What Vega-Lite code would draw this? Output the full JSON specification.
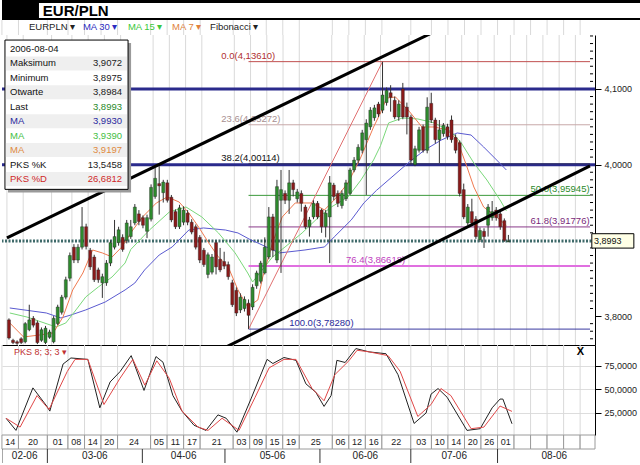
{
"$schema":"https://vega.github.io/schema/vega-lite/v6.json",
"padding":0,
"spacing":0,
"bounds":"flush",
"background":"#ffffff",
"config":{"locale":{"number":{"decimal":",","thousands":" ","grouping":[3],"currency":["","zł"]}},"view":{"stroke":null},"font":"Liberation Sans","axis":{"labelFont":"Liberation Sans","labelFontSize":9,"labelColor":"#222222"},"text":{"font":"Liberation Sans"}},
"resolve":{"scale":{"x":"independent","y":"independent"}},
"datasets":{
"days":[{"d":"14","from":-0.5,"to":3.5},{"d":"20","from":3.5,"to":10.5},{"d":"01","from":10.5,"to":15.5},{"d":"08","from":15.5,"to":19.5},{"d":"14","from":19.5,"to":23.5},{"d":"20","from":23.5,"to":27.5},{"d":"24","from":27.5,"to":35.5},{"d":"05","from":35.5,"to":39.5},{"d":"11","from":39.5,"to":43.5},{"d":"17","from":43.5,"to":47.5},{"d":"21","from":47.5,"to":55.5},{"d":"03","from":55.5,"to":59.5},{"d":"09","from":59.5,"to":63.5},{"d":"15","from":63.5,"to":67.5},{"d":"19","from":67.5,"to":71.5},{"d":"25","from":71.5,"to":79.5},{"d":"06","from":79.5,"to":83.5},{"d":"12","from":83.5,"to":87.5},{"d":"16","from":87.5,"to":91.5},{"d":"22","from":91.5,"to":98.5},{"d":"03","from":98.5,"to":103.5},{"d":"10","from":103.5,"to":107.5},{"d":"14","from":107.5,"to":111.5},{"d":"20","from":111.5,"to":115.5},{"d":"26","from":115.5,"to":119.5},{"d":"01","from":119.5,"to":123.5},{"d":"","from":123.5,"to":127.5},{"d":"","from":127.5,"to":131.5},{"d":"","from":131.5,"to":135.5},{"d":"","from":135.5,"to":139.5},{"d":"","from":139.5,"to":143.1}],
"months":[{"m":"02-06","from":-0.5,"to":10.5},{"m":"03-06","from":10.5,"to":33.5},{"m":"04-06","from":33.5,"to":53.5},{"m":"05-06","from":53.5,"to":76.5},{"m":"06-06","from":76.5,"to":98.5},{"m":"07-06","from":98.5,"to":119.5},{"m":"08-06","from":119.5,"to":147}],
"candles":[
{"i":0,"o":3.795,"h":3.797,"l":3.769,"c":3.771},
{"i":1,"o":3.768,"h":3.770,"l":3.763,"c":3.765},
{"i":2,"o":3.766,"h":3.768,"l":3.762,"c":3.764},
{"i":3,"o":3.770,"h":3.772,"l":3.763,"c":3.765},
{"i":4,"o":3.766,"h":3.792,"l":3.764,"c":3.790},
{"i":5,"o":3.782,"h":3.815,"l":3.780,"c":3.795},
{"i":6,"o":3.797,"h":3.800,"l":3.785,"c":3.788},
{"i":7,"o":3.791,"h":3.794,"l":3.763,"c":3.765},
{"i":8,"o":3.768,"h":3.785,"l":3.766,"c":3.782},
{"i":9,"o":3.765,"h":3.787,"l":3.763,"c":3.784},
{"i":10,"o":3.772,"h":3.782,"l":3.770,"c":3.779},
{"i":11,"o":3.766,"h":3.800,"l":3.764,"c":3.797},
{"i":12,"o":3.790,"h":3.815,"l":3.788,"c":3.812},
{"i":13,"o":3.805,"h":3.828,"l":3.802,"c":3.825},
{"i":14,"o":3.825,"h":3.852,"l":3.822,"c":3.848},
{"i":15,"o":3.850,"h":3.884,"l":3.846,"c":3.880},
{"i":16,"o":3.891,"h":3.895,"l":3.870,"c":3.874},
{"i":17,"o":3.874,"h":3.895,"l":3.870,"c":3.891},
{"i":18,"o":3.891,"h":3.944,"l":3.888,"c":3.918},
{"i":19,"o":3.918,"h":3.922,"l":3.888,"c":3.892},
{"i":20,"o":3.887,"h":3.890,"l":3.861,"c":3.865},
{"i":21,"o":3.878,"h":3.881,"l":3.845,"c":3.848},
{"i":22,"o":3.861,"h":3.864,"l":3.844,"c":3.848},
{"i":23,"o":3.844,"h":3.856,"l":3.824,"c":3.852},
{"i":24,"o":3.844,"h":3.874,"l":3.840,"c":3.870},
{"i":25,"o":3.870,"h":3.900,"l":3.866,"c":3.897},
{"i":26,"o":3.891,"h":3.927,"l":3.888,"c":3.905},
{"i":27,"o":3.897,"h":3.918,"l":3.893,"c":3.914},
{"i":28,"o":3.904,"h":3.908,"l":3.885,"c":3.888},
{"i":29,"o":3.900,"h":3.927,"l":3.896,"c":3.923},
{"i":30,"o":3.905,"h":3.927,"l":3.902,"c":3.918},
{"i":31,"o":3.923,"h":3.948,"l":3.920,"c":3.944},
{"i":32,"o":3.935,"h":3.940,"l":3.920,"c":3.925},
{"i":33,"o":3.930,"h":3.933,"l":3.916,"c":3.920},
{"i":34,"o":3.912,"h":3.934,"l":3.903,"c":3.930},
{"i":35,"o":3.928,"h":3.974,"l":3.925,"c":3.970},
{"i":36,"o":3.958,"h":3.996,"l":3.955,"c":3.982},
{"i":37,"o":3.975,"h":3.998,"l":3.934,"c":3.972},
{"i":38,"o":3.963,"h":3.980,"l":3.950,"c":3.977},
{"i":39,"o":3.976,"h":3.980,"l":3.950,"c":3.953},
{"i":40,"o":3.957,"h":3.960,"l":3.924,"c":3.927},
{"i":41,"o":3.938,"h":3.941,"l":3.915,"c":3.918},
{"i":42,"o":3.918,"h":3.947,"l":3.915,"c":3.943},
{"i":43,"o":3.924,"h":3.945,"l":3.920,"c":3.940},
{"i":44,"o":3.936,"h":3.940,"l":3.920,"c":3.924},
{"i":45,"o":3.924,"h":3.928,"l":3.908,"c":3.911},
{"i":46,"o":3.918,"h":3.921,"l":3.888,"c":3.891},
{"i":47,"o":3.904,"h":3.907,"l":3.870,"c":3.874},
{"i":48,"o":3.887,"h":3.890,"l":3.865,"c":3.868},
{"i":49,"o":3.855,"h":3.884,"l":3.850,"c":3.881},
{"i":50,"o":3.858,"h":3.882,"l":3.855,"c":3.878},
{"i":51,"o":3.897,"h":3.900,"l":3.855,"c":3.865},
{"i":52,"o":3.875,"h":3.890,"l":3.858,"c":3.861},
{"i":53,"o":3.872,"h":3.885,"l":3.862,"c":3.866},
{"i":54,"o":3.868,"h":3.872,"l":3.848,"c":3.852},
{"i":55,"o":3.844,"h":3.848,"l":3.812,"c":3.815},
{"i":56,"o":3.834,"h":3.838,"l":3.800,"c":3.804},
{"i":57,"o":3.808,"h":3.830,"l":3.804,"c":3.825},
{"i":58,"o":3.810,"h":3.826,"l":3.806,"c":3.822},
{"i":59,"o":3.817,"h":3.822,"l":3.783,"c":3.801},
{"i":60,"o":3.812,"h":3.842,"l":3.808,"c":3.838},
{"i":61,"o":3.840,"h":3.860,"l":3.836,"c":3.857},
{"i":62,"o":3.846,"h":3.873,"l":3.843,"c":3.870},
{"i":63,"o":3.857,"h":3.904,"l":3.855,"c":3.891},
{"i":64,"o":3.878,"h":3.944,"l":3.875,"c":3.931},
{"i":65,"o":3.931,"h":3.935,"l":3.878,"c":3.887},
{"i":66,"o":3.874,"h":3.980,"l":3.870,"c":3.971},
{"i":67,"o":3.953,"h":3.993,"l":3.857,"c":3.967},
{"i":68,"o":3.962,"h":3.966,"l":3.948,"c":3.953},
{"i":69,"o":3.953,"h":3.993,"l":3.935,"c":3.976},
{"i":70,"o":3.976,"h":3.980,"l":3.958,"c":3.967},
{"i":71,"o":3.955,"h":3.968,"l":3.950,"c":3.964},
{"i":72,"o":3.962,"h":3.966,"l":3.938,"c":3.949},
{"i":73,"o":3.944,"h":3.947,"l":3.915,"c":3.918},
{"i":74,"o":3.918,"h":3.931,"l":3.905,"c":3.927},
{"i":75,"o":3.931,"h":3.953,"l":3.928,"c":3.949},
{"i":76,"o":3.949,"h":3.952,"l":3.928,"c":3.931},
{"i":77,"o":3.940,"h":3.942,"l":3.910,"c":3.918},
{"i":78,"o":3.918,"h":3.940,"l":3.904,"c":3.936},
{"i":79,"o":3.931,"h":3.985,"l":3.870,"c":3.976},
{"i":80,"o":3.973,"h":3.976,"l":3.953,"c":3.958},
{"i":81,"o":3.962,"h":3.966,"l":3.944,"c":3.949},
{"i":82,"o":3.946,"h":3.966,"l":3.942,"c":3.962},
{"i":83,"o":3.955,"h":3.980,"l":3.952,"c":3.976},
{"i":84,"o":3.962,"h":3.996,"l":3.960,"c":3.993},
{"i":85,"o":3.993,"h":4.010,"l":3.990,"c":4.006},
{"i":86,"o":4.006,"h":4.027,"l":4.002,"c":4.023},
{"i":87,"o":4.019,"h":4.046,"l":4.015,"c":4.042},
{"i":88,"o":4.033,"h":4.060,"l":3.960,"c":4.055},
{"i":89,"o":4.050,"h":4.076,"l":4.046,"c":4.072},
{"i":90,"o":4.062,"h":4.079,"l":4.058,"c":4.075},
{"i":91,"o":4.080,"h":4.083,"l":4.063,"c":4.067},
{"i":92,"o":4.072,"h":4.136,"l":4.068,"c":4.092},
{"i":93,"o":4.082,"h":4.102,"l":4.078,"c":4.098},
{"i":94,"o":4.095,"h":4.105,"l":4.070,"c":4.089},
{"i":95,"o":4.085,"h":4.090,"l":4.060,"c":4.063},
{"i":96,"o":4.063,"h":4.085,"l":4.058,"c":4.080},
{"i":97,"o":4.100,"h":4.108,"l":4.060,"c":4.063},
{"i":98,"o":4.076,"h":4.082,"l":4.040,"c":4.063},
{"i":99,"o":4.063,"h":4.066,"l":4.000,"c":4.006},
{"i":100,"o":4.000,"h":4.025,"l":3.998,"c":4.021},
{"i":101,"o":4.019,"h":4.050,"l":4.016,"c":4.046},
{"i":102,"o":4.050,"h":4.053,"l":4.016,"c":4.019},
{"i":103,"o":4.019,"h":4.089,"l":4.015,"c":4.076},
{"i":104,"o":4.081,"h":4.095,"l":4.055,"c":4.059},
{"i":105,"o":4.059,"h":4.062,"l":4.028,"c":4.033},
{"i":106,"o":4.033,"h":4.059,"l":4.002,"c":4.046},
{"i":107,"o":4.041,"h":4.055,"l":4.037,"c":4.052},
{"i":108,"o":4.050,"h":4.054,"l":4.033,"c":4.037},
{"i":109,"o":4.059,"h":4.065,"l":4.029,"c":4.033},
{"i":110,"o":4.036,"h":4.040,"l":4.015,"c":4.019},
{"i":111,"o":4.029,"h":4.032,"l":3.958,"c":3.962},
{"i":112,"o":3.967,"h":3.975,"l":3.928,"c":3.931},
{"i":113,"o":3.923,"h":3.948,"l":3.920,"c":3.944},
{"i":114,"o":3.938,"h":3.955,"l":3.920,"c":3.923},
{"i":115,"o":3.928,"h":3.932,"l":3.902,"c":3.905},
{"i":116,"o":3.901,"h":3.917,"l":3.898,"c":3.913},
{"i":117,"o":3.912,"h":3.916,"l":3.890,"c":3.905},
{"i":118,"o":3.920,"h":3.948,"l":3.905,"c":3.944},
{"i":119,"o":3.930,"h":3.952,"l":3.926,"c":3.938},
{"i":120,"o":3.940,"h":3.944,"l":3.926,"c":3.930},
{"i":121,"o":3.935,"h":3.938,"l":3.914,"c":3.918},
{"i":122,"o":3.926,"h":3.929,"l":3.898,"c":3.900},
{"i":123,"o":3.8984,"h":3.9072,"l":3.8975,"c":3.8993}
],
"ma":[
{"s":"MA30","i":0.2,"p":3.8107},{"s":"MA30","i":9.2,"p":3.8041},{"s":"MA30","i":12.8,"p":3.7975},{"s":"MA30","i":15.3,"p":3.8015},{"s":"MA30","i":18.9,"p":3.8081},{"s":"MA30","i":23.7,"p":3.8186},{"s":"MA30","i":28.6,"p":3.8345},{"s":"MA30","i":31,"p":3.8437},{"s":"MA30","i":33.4,"p":3.8609},{"s":"MA30","i":37,"p":3.8807},{"s":"MA30","i":40.2,"p":3.8913},{"s":"MA30","i":44.3,"p":3.9137},{"s":"MA30","i":47.9,"p":3.9164},{"s":"MA30","i":53.3,"p":3.9137},{"s":"MA30","i":56.4,"p":3.9098},{"s":"MA30","i":59.6,"p":3.9005},{"s":"MA30","i":61.3,"p":3.8966},{"s":"MA30","i":66.6,"p":3.8834},{"s":"MA30","i":72.9,"p":3.8873},{"s":"MA30","i":77.7,"p":3.8913},{"s":"MA30","i":80.1,"p":3.9045},{"s":"MA30","i":84.3,"p":3.927},{"s":"MA30","i":87.4,"p":3.9494},{"s":"MA30","i":90.5,"p":3.966},{"s":"MA30","i":98.3,"p":4.0022},{"s":"MA30","i":102.4,"p":4.0194},{"s":"MA30","i":106.5,"p":4.0326},{"s":"MA30","i":110.4,"p":4.0419},{"s":"MA30","i":113.8,"p":4.0392},{"s":"MA30","i":116.9,"p":4.0234},{"s":"MA30","i":120.1,"p":4.0062},{"s":"MA30","i":122.5,"p":3.993},
{"s":"MA15","i":0.2,"p":3.8041},{"s":"MA15","i":4.4,"p":3.7988},{"s":"MA15","i":11.6,"p":3.7856},{"s":"MA15","i":14,"p":3.7909},{"s":"MA15","i":16.5,"p":3.8081},{"s":"MA15","i":18.9,"p":3.8252},{"s":"MA15","i":22,"p":3.8384},{"s":"MA15","i":25.4,"p":3.8517},{"s":"MA15","i":28.6,"p":3.8701},{"s":"MA15","i":30,"p":3.888},{"s":"MA15","i":34.6,"p":3.9137},{"s":"MA15","i":39.5,"p":3.9375},{"s":"MA15","i":43.6,"p":3.9441},{"s":"MA15","i":47.5,"p":3.9309},{"s":"MA15","i":51.6,"p":3.9098},{"s":"MA15","i":55.7,"p":3.8834},{"s":"MA15","i":58.8,"p":3.8569},{"s":"MA15","i":60,"p":3.845},{"s":"MA15","i":64.9,"p":3.8781},{"s":"MA15","i":68,"p":3.8913},{"s":"MA15","i":72.2,"p":3.9098},{"s":"MA15","i":76.3,"p":3.9309},{"s":"MA15","i":79.4,"p":3.9441},{"s":"MA15","i":83.5,"p":3.9573},{"s":"MA15","i":86.7,"p":3.9798},{"s":"MA15","i":89.8,"p":4.0062},{"s":"MA15","i":91.5,"p":4.025},{"s":"MA15","i":93.5,"p":4.0551},{"s":"MA15","i":96.9,"p":4.0617},{"s":"MA15","i":100.7,"p":4.0604},{"s":"MA15","i":104.8,"p":4.0551},{"s":"MA15","i":109,"p":4.0432},{"s":"MA15","i":111.4,"p":4.0287},{"s":"MA15","i":114.5,"p":4.0022},{"s":"MA15","i":117.7,"p":3.9798},{"s":"MA15","i":121.1,"p":3.952},{"s":"MA15","i":122.5,"p":3.939},
{"s":"MA7","i":0.2,"p":3.7909},{"s":"MA7","i":3.6,"p":3.7724},{"s":"MA7","i":7.5,"p":3.775},{"s":"MA7","i":10.9,"p":3.7777},{"s":"MA7","i":13.3,"p":3.7988},{"s":"MA7","i":15.7,"p":3.8345},{"s":"MA7","i":18.2,"p":3.8569},{"s":"MA7","i":20.6,"p":3.8873},{"s":"MA7","i":23,"p":3.8834},{"s":"MA7","i":25.4,"p":3.8781},{"s":"MA7","i":27.8,"p":3.8913},{"s":"MA7","i":30.5,"p":3.9137},{"s":"MA7","i":32.9,"p":3.9309},{"s":"MA7","i":36.3,"p":3.9494},{"s":"MA7","i":39,"p":3.9573},{"s":"MA7","i":41.9,"p":3.9507},{"s":"MA7","i":44.3,"p":3.9362},{"s":"MA7","i":46.7,"p":3.9177},{"s":"MA7","i":49.2,"p":3.8966},{"s":"MA7","i":51.6,"p":3.8781},{"s":"MA7","i":54,"p":3.8649},{"s":"MA7","i":56.4,"p":3.8345},{"s":"MA7","i":58.8,"p":3.812},{"s":"MA7","i":61.3,"p":3.8213},{"s":"MA7","i":62.5,"p":3.8517},{"s":"MA7","i":64.9,"p":3.8966},{"s":"MA7","i":67.3,"p":3.9309},{"s":"MA7","i":70.5,"p":3.9494},{"s":"MA7","i":74.6,"p":3.9494},{"s":"MA7","i":77.7,"p":3.9402},{"s":"MA7","i":80.1,"p":3.9534},{"s":"MA7","i":83.5,"p":3.9758},{"s":"MA7","i":86.7,"p":4.0102},{"s":"MA7","i":89.8,"p":4.0498},{"s":"MA7","i":91.5,"p":4.0683},{"s":"MA7","i":93,"p":4.088},{"s":"MA7","i":95.2,"p":4.0894},{"s":"MA7","i":98.3,"p":4.0723},{"s":"MA7","i":101.7,"p":4.0498},{"s":"MA7","i":104.8,"p":4.0498},{"s":"MA7","i":108,"p":4.0458},{"s":"MA7","i":110.4,"p":4.0326},{"s":"MA7","i":112.8,"p":3.997},{"s":"MA7","i":114.5,"p":3.9705},{"s":"MA7","i":116.9,"p":3.9441},{"s":"MA7","i":120.1,"p":3.9309},{"s":"MA7","i":122.5,"p":3.9197}
],
"fib":[{"lv":"0.0","p":4.1361,"t":"0.0(4,13610)"},{"lv":"23.6","p":4.05272,"t":"23.6(4,05272)"},{"lv":"38.2","p":4.00114,"t":"38.2(4,00114)"},{"lv":"50.0","p":3.95945,"t":"50.0(3,95945)"},{"lv":"61.8","p":3.91776,"t":"61.8(3,91776)"},{"lv":"76.4","p":3.86618,"t":"76.4(3,86618)"},{"lv":"100.0","p":3.7828,"t":"100.0(3,78280)"}],
"fibdiag":[{"i":59,"p":3.7828},{"i":92,"p":4.1361}],
"channel":[{"ln":"up","i":-0.5,"p":3.9032},{"ln":"up","i":143.1,"p":4.2749},{"ln":"low","i":40,"p":3.7232},{"ln":"low","i":143.1,"p":3.9983}],
"sr":[{"p":4.1},{"p":4.0}],
"last":[{"p":3.8993,"t":"3,8993"}],
"minor":[{"p":3.77},{"p":3.78},{"p":3.79},{"p":3.81},{"p":3.82},{"p":3.83},{"p":3.84},{"p":3.85},{"p":3.86},{"p":3.87},{"p":3.88},{"p":3.89},{"p":3.91},{"p":3.92},{"p":3.93},{"p":3.94},{"p":3.95},{"p":3.96},{"p":3.97},{"p":3.98},{"p":3.99},{"p":4.01},{"p":4.02},{"p":4.03},{"p":4.04},{"p":4.05},{"p":4.06},{"p":4.07},{"p":4.08},{"p":4.09},{"p":4.11},{"p":4.12},{"p":4.13},{"p":4.14},{"p":4.15},{"p":4.16},{"p":4.17}],
"info":[{"row":0,"lab":"2006-08-04","val":"","k":"date"},{"row":1,"lab":"Maksimum","val":"3,9072","k":"px"},{"row":2,"lab":"Minimum","val":"3,8975","k":"px"},{"row":3,"lab":"Otwarte","val":"3,8984","k":"px"},{"row":4,"lab":"Last","val":"3,8993","k":"last"},{"row":5,"lab":"MA","val":"3,9930","k":"ma30"},{"row":6,"lab":"MA","val":"3,9390","k":"ma15"},{"row":7,"lab":"MA","val":"3,9197","k":"ma7"},{"row":8,"lab":"PKS %K","val":"13,5458","k":"k"},{"row":9,"lab":"PKS %D","val":"26,6812","k":"d"}],
"stoch":[
{"s":"K","i":0.5,"v":19.4},{"s":"K","i":2.9,"v":6.5},{"s":"K","i":7.0,"v":51.7},{"s":"K","i":10.4,"v":32},{"s":"K","i":11.1,"v":27},{"s":"K","i":14.3,"v":77},{"s":"K","i":16.2,"v":83.5},{"s":"K","i":20.3,"v":82},{"s":"K","i":23.2,"v":30.5},{"s":"K","i":25.7,"v":58},{"s":"K","i":28.1,"v":69},{"s":"K","i":30.8,"v":86},{"s":"K","i":33.9,"v":49},{"s":"K","i":36.8,"v":85},{"s":"K","i":38.5,"v":79},{"s":"K","i":40.9,"v":43.5},{"s":"K","i":43.1,"v":27},{"s":"K","i":46.0,"v":12},{"s":"K","i":48.9,"v":6.5},{"s":"K","i":51.8,"v":23},{"s":"K","i":53.8,"v":19.4},{"s":"K","i":56.4,"v":4.6},{"s":"K","i":59.8,"v":40},{"s":"K","i":63.7,"v":82},{"s":"K","i":65.1,"v":77.6},{"s":"K","i":67.8,"v":84},{"s":"K","i":70.7,"v":81},{"s":"K","i":73.1,"v":56},{"s":"K","i":75.5,"v":47},{"s":"K","i":77.5,"v":32},{"s":"K","i":79.2,"v":43.5},{"s":"K","i":80.6,"v":81},{"s":"K","i":82.6,"v":78.7},{"s":"K","i":85.2,"v":93.5},{"s":"K","i":88.4,"v":90},{"s":"K","i":92.5,"v":88},{"s":"K","i":95.4,"v":65.7},{"s":"K","i":99.3,"v":13.9},{"s":"K","i":102.2,"v":25},{"s":"K","i":103.4,"v":45},{"s":"K","i":105.1,"v":51},{"s":"K","i":107.3,"v":41.7},{"s":"K","i":112.1,"v":6.5},{"s":"K","i":115.3,"v":8.3},{"s":"K","i":118.2,"v":30.5},{"s":"K","i":120.1,"v":39.8},{"s":"K","i":120.8,"v":39.8},{"s":"K","i":123,"v":13.5458},
{"s":"D","i":0.5,"v":19.4},{"s":"D","i":3.9,"v":10},{"s":"D","i":8.0,"v":43.5},{"s":"D","i":10.9,"v":28.7},{"s":"D","i":15.3,"v":69},{"s":"D","i":17.2,"v":82},{"s":"D","i":20.3,"v":82},{"s":"D","i":24.2,"v":34},{"s":"D","i":28.1,"v":62},{"s":"D","i":31.2,"v":82},{"s":"D","i":34.1,"v":54.6},{"s":"D","i":37.0,"v":80.5},{"s":"D","i":40.0,"v":62},{"s":"D","i":43.1,"v":27},{"s":"D","i":47.0,"v":10},{"s":"D","i":49.4,"v":6.5},{"s":"D","i":52.8,"v":19.4},{"s":"D","i":56.9,"v":6.5},{"s":"D","i":60.8,"v":41.7},{"s":"D","i":64.2,"v":73},{"s":"D","i":67.8,"v":82},{"s":"D","i":70.7,"v":82},{"s":"D","i":74.6,"v":51},{"s":"D","i":77.5,"v":38},{"s":"D","i":80.1,"v":65.7},{"s":"D","i":83.5,"v":80.5},{"s":"D","i":85.5,"v":91.7},{"s":"D","i":88.4,"v":90},{"s":"D","i":93.0,"v":86},{"s":"D","i":95.9,"v":69.4},{"s":"D","i":100.2,"v":21.3},{"s":"D","i":103.4,"v":34},{"s":"D","i":105.8,"v":51},{"s":"D","i":108.2,"v":43.5},{"s":"D","i":113.1,"v":8.3},{"s":"D","i":116.2,"v":10},{"s":"D","i":120.1,"v":32.4},{"s":"D","i":122.0,"v":28.7},{"s":"D","i":123.0,"v":26.6812}
]
},
"vconcat":[
{
"width":640,"height":35,
"data":{"values":[{}]},
"layer":[
{"mark":{"type":"rect","color":"#000000"},"encoding":{"x":{"datum":-0.484,"type":"quantitative","scale":{"domain":[-0.484,154.48],"nice":false,"zero":false},"axis":null},"x2":{"datum":154.48},"y":{"datum":0,"type":"quantitative","scale":{"domain":[0,35],"reverse":true,"nice":false,"zero":false},"axis":null},"y2":{"datum":3}}},
{"mark":{"type":"rect","color":"#000000"},"encoding":{"x":{"datum":-0.484},"x2":{"datum":8.47},"y":{"datum":0},"y2":{"datum":18}}},
{"mark":{"type":"rect","color":"#000000"},"encoding":{"x":{"datum":-0.484},"x2":{"datum":154.48},"y":{"datum":18},"y2":{"datum":20}}},
{"data":{"name":"days"},"mark":{"type":"rule","color":"#d9d9d9"},"encoding":{"x":{"field":"from","type":"quantitative"},"y":{"datum":20},"y2":{"datum":35}}},
{"mark":{"type":"text","text":"EUR/PLN","fontSize":15,"fontWeight":"bold","align":"left","baseline":"middle","color":"#000000"},"encoding":{"x":{"datum":9.4},"y":{"datum":10.5}}},
{"mark":{"type":"text","text":"EURPLN  ▾","fontSize":9.5,"align":"left","baseline":"middle","color":"#222222"},"encoding":{"x":{"datum":6.05},"y":{"datum":27}}},
{"mark":{"type":"text","text":"MA 30 ▾","fontSize":9.5,"align":"left","baseline":"middle","color":"#2c2cc0"},"encoding":{"x":{"datum":19.1},"y":{"datum":27}}},
{"mark":{"type":"text","text":"MA 15 ▾","fontSize":9.5,"align":"left","baseline":"middle","color":"#3cc83c"},"encoding":{"x":{"datum":30.0},"y":{"datum":27}}},
{"mark":{"type":"text","text":"MA 7 ▾","fontSize":9.5,"align":"left","baseline":"middle","color":"#e0823c"},"encoding":{"x":{"datum":40.7},"y":{"datum":27}}},
{"mark":{"type":"text","text":"Fibonacci ▾","fontSize":9.5,"align":"left","baseline":"middle","color":"#222222"},"encoding":{"x":{"datum":49.9},"y":{"datum":27}}}
]
},
{
"width":593,"height":310,
"resolve":{"scale":{"x":"independent","y":"independent"},"axis":{"x":"independent","y":"independent"}},
"layer":[
{
"layer":[
{"data":{"name":"days"},"mark":{"type":"rule","color":"#d9d9d9","strokeWidth":1},"encoding":{"x":{"field":"from","type":"quantitative","scale":{"domain":[-0.484,143.1],"nice":false,"zero":false},"axis":{"orient":"bottom","labels":false,"ticks":false,"grid":false,"domain":true,"domainColor":"#000000","title":null}}}},
{"data":{"name":"sr"},"mark":{"type":"rule","color":"#2a2a8c","strokeWidth":3},"encoding":{"y":{"field":"p","type":"quantitative","scale":{"domain":[3.7618,4.1713],"nice":false,"zero":false},"axis":{"orient":"right","title":null,"grid":false,"domainColor":"#000000","tickColor":"#000000","tickSize":6,"labelPadding":3,"values":[3.8,4.0,4.1],"format":".4f"}}}},
{"data":{"name":"minor"},"mark":{"type":"rule","color":"#000000","strokeWidth":1,"clip":false},"encoding":{"x":{"datum":143.1},"x2":{"datum":143.85},"y":{"field":"p","type":"quantitative"}}},
{"data":{"name":"fib"},"mark":{"type":"rule"},"encoding":{"x":{"datum":59},"x2":{"datum":143.1},"y":{"field":"p","type":"quantitative"},"strokeWidth":{"condition":{"test":"datum.lv=='76.4'","value":2},"value":1},"color":{"condition":[{"test":"datum.lv=='0.0'","value":"#c05050"},{"test":"datum.lv=='23.6'","value":"#c8a8a8"},{"test":"datum.lv=='38.2'","value":"#303060"},{"test":"datum.lv=='50.0'","value":"#3c9a3c"},{"test":"datum.lv=='61.8'","value":"#8a3a8a"},{"test":"datum.lv=='76.4'","value":"#e070e0"}],"value":"#3a3aa0"}}},
{"data":{"name":"fib"},"transform":[{"filter":"datum.lv=='0.0' || datum.lv=='23.6' || datum.lv=='38.2'"}],"mark":{"type":"text","align":"left","baseline":"bottom","dy":-1,"fontSize":9.5},"encoding":{"x":{"datum":52.3},"y":{"field":"p","type":"quantitative"},"text":{"field":"t"},"color":{"condition":[{"test":"datum.lv=='0.0'","value":"#b03030"},{"test":"datum.lv=='23.6'","value":"#a89090"}],"value":"#111111"}}},
{"data":{"name":"fib"},"transform":[{"filter":"datum.lv=='50.0' || datum.lv=='61.8'"}],"mark":{"type":"text","align":"right","baseline":"bottom","dy":-1,"fontSize":9.5},"encoding":{"x":{"datum":143.0},"y":{"field":"p","type":"quantitative"},"text":{"field":"t"},"color":{"condition":[{"test":"datum.lv=='50.0'","value":"#2a8a2a"}],"value":"#7a2a7a"}}},
{"data":{"name":"fib"},"transform":[{"filter":"datum.lv=='76.4'"}],"mark":{"type":"text","align":"left","baseline":"bottom","dy":-1,"fontSize":9.5,"color":"#c040c0"},"encoding":{"x":{"datum":83},"y":{"field":"p","type":"quantitative"},"text":{"field":"t"}}},
{"data":{"name":"fib"},"transform":[{"filter":"datum.lv=='100.0'"}],"mark":{"type":"text","align":"left","baseline":"bottom","dy":-1,"fontSize":9.5,"color":"#2a2a9a"},"encoding":{"x":{"datum":69},"y":{"field":"p","type":"quantitative"},"text":{"field":"t"}}},
{"data":{"name":"last"},"mark":{"type":"rule","color":"#3f6a6a","strokeWidth":3,"strokeDash":[2,1.5]},"encoding":{"y":{"field":"p","type":"quantitative"}}},
{"data":{"name":"ma"},"mark":{"type":"line","strokeWidth":1},"encoding":{"x":{"field":"i","type":"quantitative"},"y":{"field":"p","type":"quantitative"},"detail":{"field":"s"},"color":{"condition":[{"test":"datum.s=='MA30'","value":"#5a5ad0"},{"test":"datum.s=='MA15'","value":"#7ad87a"}],"value":"#f07a50"}}},
{"data":{"name":"fibdiag"},"mark":{"type":"line","strokeWidth":1,"color":"#e07070"},"encoding":{"x":{"field":"i","type":"quantitative"},"y":{"field":"p","type":"quantitative"}}},
{"data":{"name":"candles"},"mark":{"type":"rule","color":"#333333","strokeWidth":1},"encoding":{"x":{"field":"i","type":"quantitative"},"y":{"field":"l","type":"quantitative"},"y2":{"field":"h"}}},
{"data":{"name":"candles"},"mark":{"type":"bar","size":3,"stroke":"#222222","strokeWidth":0.4},"encoding":{"x":{"field":"i","type":"quantitative"},"y":{"field":"o","type":"quantitative"},"y2":{"field":"c"},"color":{"condition":{"test":"datum.c >= datum.o","value":"#2e8b2e"},"value":"#8b1a1a"}}},
{"data":{"name":"channel"},"mark":{"type":"line","strokeWidth":3,"color":"#000000","clip":true},"encoding":{"x":{"field":"i","type":"quantitative"},"y":{"field":"p","type":"quantitative"},"detail":{"field":"ln"}}},
{"data":{"name":"last"},"mark":{"type":"rect","fill":"#ffffe6","stroke":"#000000","strokeWidth":1,"clip":false},"encoding":{"x":{"datum":143.55},"x2":{"datum":153.9},"y":{"datum":3.8898},"y2":{"datum":3.9088}}},
{"data":{"name":"last"},"mark":{"type":"text","align":"left","baseline":"middle","fontSize":9,"color":"#111111","clip":false},"encoding":{"x":{"datum":144.1},"y":{"field":"p","type":"quantitative"},"text":{"field":"t"}}}
]
},
{
"layer":[
{"data":{"values":[{}]},"mark":{"type":"rect","fill":"#9a9a9a"},"encoding":{"x":{"datum":-0.018,"type":"quantitative","scale":{"domain":[-0.0714,5.223],"nice":false,"zero":false},"axis":null},"x2":{"datum":1.081},"y":{"datum":-0.41,"type":"quantitative","scale":{"domain":[-0.97,20.5],"reverse":true,"nice":false,"zero":false},"axis":null},"y2":{"datum":9.93}}},
{"data":{"values":[{}]},"mark":{"type":"rect","fill":"#ffffff","stroke":"#000000","strokeWidth":1},"encoding":{"x":{"datum":-0.045},"x2":{"datum":1.054},"y":{"datum":-0.62},"y2":{"datum":9.72}}},
{"data":{"name":"info"},"transform":[{"filter":"datum.row % 2 == 1"}],"mark":{"type":"tick","orient":"horizontal","thickness":14,"size":121,"color":"#efefef","opacity":1},"encoding":{"x":{"datum":0.504},"y":{"field":"row","type":"quantitative"}}},
{"data":{"name":"info"},"mark":{"type":"text","align":"left","baseline":"middle","fontSize":9.5},"encoding":{"x":{"datum":0},"y":{"field":"row","type":"quantitative"},"text":{"field":"lab"},"color":{"condition":[{"test":"datum.k=='ma30'","value":"#2a2aa0"},{"test":"datum.k=='ma15'","value":"#44c044"},{"test":"datum.k=='ma7'","value":"#e08a40"},{"test":"datum.k=='d'","value":"#d02828"}],"value":"#111111"}}},
{"data":{"name":"info"},"mark":{"type":"text","align":"right","baseline":"middle","fontSize":9.5},"encoding":{"x":{"datum":1},"y":{"field":"row","type":"quantitative"},"text":{"field":"val"},"color":{"condition":[{"test":"datum.k=='ma30'","value":"#2a2aa0"},{"test":"datum.k=='ma15'","value":"#44c044"},{"test":"datum.k=='ma7'","value":"#e08a40"},{"test":"datum.k=='d'","value":"#d02828"},{"test":"datum.k=='last'","value":"#2a8a2a"}],"value":"#222222"}}}
]
}
]
},
{
"width":593,"height":90,
"layer":[
{"data":{"name":"days"},"mark":{"type":"rule","color":"#d9d9d9","strokeWidth":1},"encoding":{"x":{"field":"from","type":"quantitative","scale":{"domain":[-0.484,143.1],"nice":false,"zero":false},"axis":{"orient":"bottom","labels":false,"ticks":false,"grid":false,"domain":true,"domainColor":"#000000","title":null}}}},
{"data":{"name":"stoch"},"mark":{"type":"line","strokeWidth":1},"encoding":{"x":{"field":"i","type":"quantitative"},"y":{"field":"v","type":"quantitative","scale":{"domain":[1.6,97.3],"nice":false,"zero":false},"axis":{"orient":"right","title":null,"values":[25,50,75],"format":".4f","grid":true,"gridColor":"#dddddd","tickSize":6,"domainColor":"#000000","tickColor":"#000000","labelPadding":3}},"detail":{"field":"s"},"color":{"condition":{"test":"datum.s=='K'","value":"#222222"},"value":"#e04848"}}},
{"data":{"values":[{}]},"mark":{"type":"text","text":"PKS 8; 3; 3  ▾","align":"left","baseline":"middle","fontSize":9,"color":"#c03030"},"encoding":{"x":{"datum":2.4},"y":{"datum":90}}},
{"data":{"values":[{}]},"mark":{"type":"text","text":"X","align":"center","baseline":"middle","fontSize":11,"fontWeight":"bold","color":"#000000"},"encoding":{"x":{"datum":139.6},"y":{"datum":90}}}
]
},
{
"width":593,"height":28,
"layer":[
{"data":{"name":"days"},"mark":{"type":"rect","fill":"#ffffff","stroke":"#9a9a9a","strokeWidth":1},"encoding":{"x":{"field":"from","type":"quantitative","scale":{"domain":[-0.484,143.1],"nice":false,"zero":false},"axis":null},"x2":{"field":"to"},"y":{"datum":1,"type":"quantitative","scale":{"domain":[0,2],"nice":false,"zero":false},"axis":null},"y2":{"datum":2}}},
{"data":{"name":"days"},"transform":[{"fold":["from","to"],"as":["edge","pos"]},{"aggregate":[{"op":"mean","field":"pos","as":"mid"}],"groupby":["d","from"]}],"mark":{"type":"text","align":"center","baseline":"middle","fontSize":9,"color":"#222222"},"encoding":{"x":{"field":"mid","type":"quantitative"},"y":{"datum":1.5},"text":{"field":"d"}}},
{"data":{"name":"months"},"mark":{"type":"rule","color":"#333333","strokeWidth":1,"clip":true},"encoding":{"x":{"field":"from","type":"quantitative"},"y":{"datum":0},"y2":{"datum":1}}},
{"data":{"name":"months"},"transform":[{"fold":["from","to"],"as":["edge","pos"]},{"aggregate":[{"op":"mean","field":"pos","as":"mid"}],"groupby":["m"]}],"mark":{"type":"text","align":"center","baseline":"middle","fontSize":10,"color":"#222222"},"encoding":{"x":{"field":"mid","type":"quantitative"},"y":{"datum":0.5},"text":{"field":"m"}}}
]
}
]
}
